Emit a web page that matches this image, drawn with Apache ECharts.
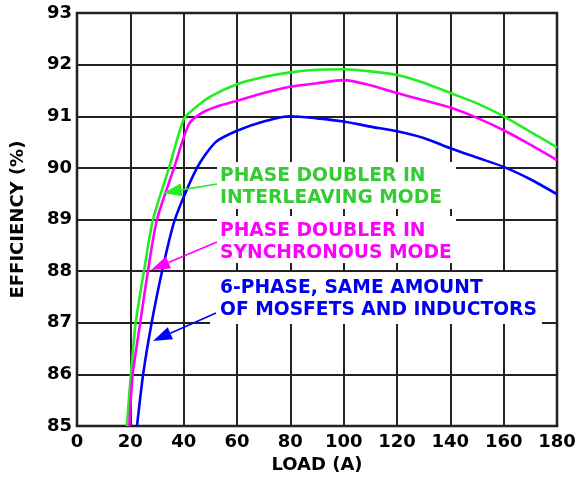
<!DOCTYPE html>
<html><head><meta charset="utf-8">
<script src="https://cdn.jsdelivr.net/npm/echarts/dist/echarts.min.js"></script>
<style>html,body{margin:0;padding:0;background:#fff}#c{width:579px;height:479px}</style>
</head><body><div id="c"></div>
<script>
// Load (A) vs efficiency (%) pairs
const interleaving = [[18.7,85],[20.2,86],[22,87],[25.1,88],[28.5,89],[34.5,90],[40.1,90.95],[44,91.15],[50,91.38],[60,91.62],[70,91.76],[80,91.85],[90,91.9],[100,91.91],[110,91.87],[120,91.8],[130,91.65],[140,91.45],[150,91.25],[160,91.0],[170,90.7],[180,90.4]];
const synchronous = [[19.6,85],[20.9,86],[23.7,87],[26.6,88],[30,89],[36.4,90],[42,90.85],[47,91.07],[53,91.2],[60,91.3],[70,91.45],[80,91.57],[90,91.64],[100,91.7],[110,91.6],[120,91.45],[130,91.31],[140,91.17],[150,90.97],[160,90.73],[170,90.45],[180,90.15]];
const sixPhase = [[22.5,85],[24.8,86],[28,87],[31.9,88],[36.7,89],[45,90],[52,90.5],[60,90.72],[70,90.9],[80,91.0],[90,90.96],[100,90.9],[110,90.8],[120,90.71],[130,90.58],[140,90.38],[150,90.2],[160,90.02],[170,89.78],[180,89.49]];
const xRange = [0, 180, 20];
const yRange = [85, 93, 1];
const labels = ["PHASE DOUBLER IN\nINTERLEAVING MODE", "PHASE DOUBLER IN\nSYNCHRONOUS MODE", "6-PHASE, SAME AMOUNT\nOF MOSFETS AND INDUCTORS"];
const xName = "LOAD (A)";
const yName = "EFFICIENCY (%)";

const FONT = '"DejaVu Sans", Verdana, sans-serif';
const lineCol = ['#22ee22', '#ff00ff', '#0000ff'];
const textCol = ['#33cc33', '#ff00ff', '#0000ee'];

function arrow(x1, y1, x2, y2, color, len, hw) {
  const dx = x2 - x1, dy = y2 - y1, d = Math.hypot(dx, dy);
  const ux = dx / d, uy = dy / d;
  const bx = x2 - ux * len, by = y2 - uy * len;
  return [
    {type: 'line', z: 100, shape: {x1: x1, y1: y1, x2: bx, y2: by}, style: {stroke: color, lineWidth: 1.6}},
    {type: 'polygon', z: 100, shape: {points: [[x2, y2], [bx - uy * hw, by + ux * hw], [bx + uy * hw, by - ux * hw]]}, style: {fill: color}}
  ];
}

const boxes = [
  {x: 217, y: 162, w: 239, h: 47},
  {x: 217, y: 216, w: 239, h: 47},
  {x: 210, y: 272, w: 332, h: 52}
];
const textPos = [[220, 165], [220, 220], [220, 277]];
const arrows = [[217, 184, 163, 193], [217, 242, 151, 270], [216, 313, 153, 341]];

const graphics = [];
boxes.forEach(b => graphics.push({type: 'rect', z: 1, shape: {x: b.x, y: b.y, width: b.w, height: b.h}, style: {fill: '#ffffff'}}));
labels.forEach((t, i) => graphics.push({type: 'text', z: 100, x: textPos[i][0], y: textPos[i][1],
  style: {text: t, fill: textCol[i], fontSize: 18.7, fontWeight: 'bold', fontFamily: FONT, lineHeight: 22, verticalAlign: 'top', align: 'left'}}));
arrows.forEach((a, i) => graphics.push(...arrow(a[0], a[1], a[2], a[3], lineCol[i], 19, 6.5)));

const chart = echarts.init(document.getElementById('c'));
chart.setOption({
  backgroundColor: '#ffffff',
  animation: false,
  grid: {left: 77, right: 22, top: 13, bottom: 47, show: true, borderColor: '#111', borderWidth: 2.5, backgroundColor: 'transparent'},
  xAxis: {
    type: 'value', min: xRange[0], max: xRange[1], interval: xRange[2],
    name: xName, nameLocation: 'middle', nameGap: 29,
    nameTextStyle: {fontSize: 18, fontWeight: 'bold', color: '#000', fontFamily: FONT},
    axisLine: {show: false}, axisTick: {show: false},
    axisLabel: {fontSize: 18, fontWeight: 'bold', color: '#000', fontFamily: FONT, margin: 7},
    splitLine: {show: true, lineStyle: {color: '#222', width: 2}}
  },
  yAxis: {
    type: 'value', min: yRange[0], max: yRange[1], interval: yRange[2],
    name: yName, nameLocation: 'middle', nameGap: 50, nameRotate: 90,
    nameTextStyle: {fontSize: 18, fontWeight: 'bold', color: '#000', fontFamily: FONT},
    axisLine: {show: false}, axisTick: {show: false},
    axisLabel: {fontSize: 18, fontWeight: 'bold', color: '#000', fontFamily: FONT, margin: 5},
    splitLine: {show: true, lineStyle: {color: '#222', width: 2}}
  },
  series: [
    {type: 'line', data: interleaving, smooth: 0.25, symbol: 'none', lineStyle: {color: lineCol[0], width: 2.6}, z: 5},
    {type: 'line', data: synchronous, smooth: 0.25, symbol: 'none', lineStyle: {color: lineCol[1], width: 2.6}, z: 5},
    {type: 'line', data: sixPhase, smooth: 0.25, symbol: 'none', lineStyle: {color: lineCol[2], width: 2.6}, z: 5}
  ],
  graphic: graphics
});
</script>
</body></html>
